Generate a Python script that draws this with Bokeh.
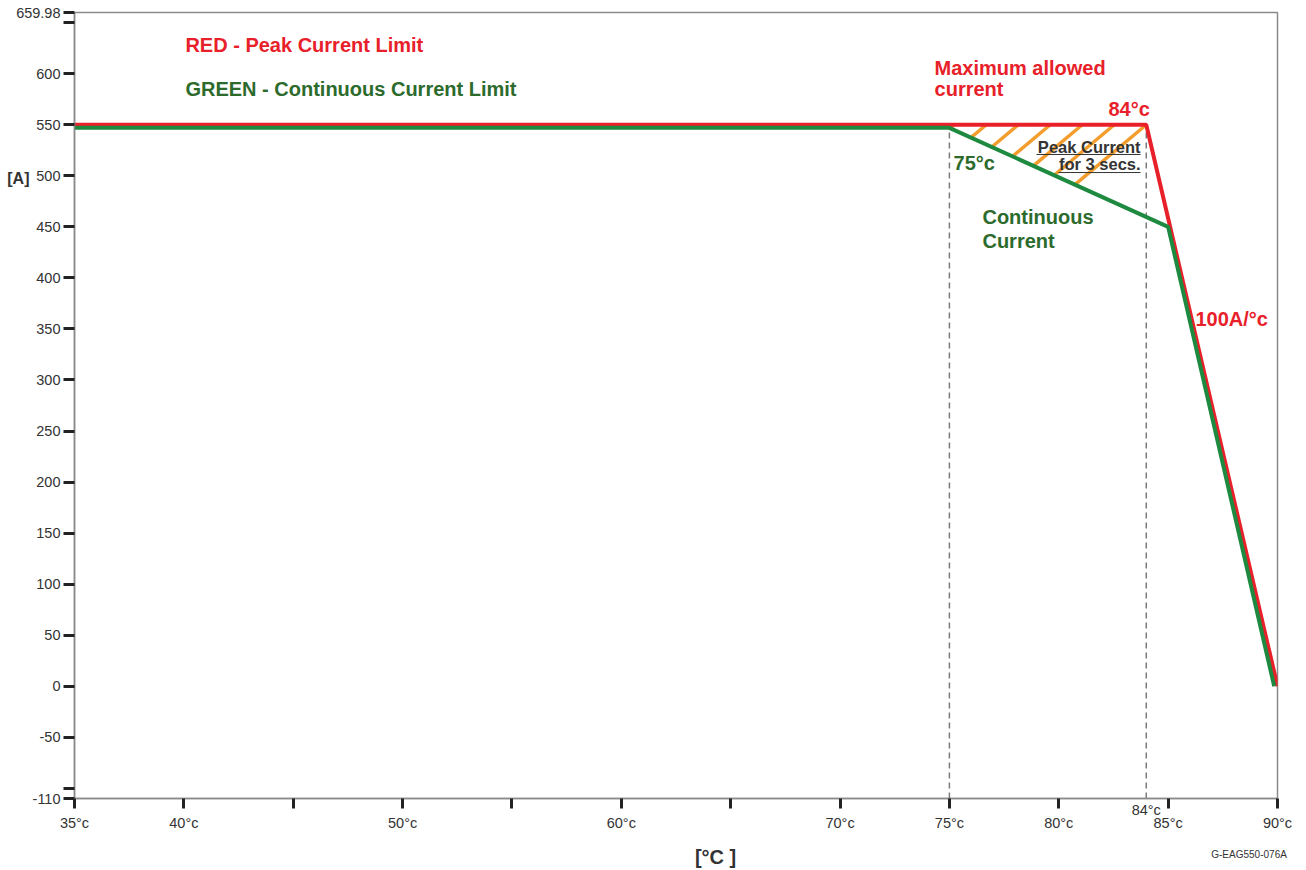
import math
from bokeh.plotting import figure
from bokeh.models import FixedTicker, Label, Range1d, LinearAxis
from bokeh.embed import file_html
from bokeh.resources import INLINE

# ---- data ----
peak_temps = [35, 84, 90]
peak_amps = [550, 550, 0]
cont_temps = [35, 75, 85, 89.85]
cont_amps = [547, 547, 450, 0]
derate_temps = [75, 84]

x_ticks = [35, 40, 45, 50, 55, 60, 65, 70, 75, 80, 85, 90]
x_tick_labels = ["35°c", "40°c", "", "50°c", "", "60°c", "", "70°c", "75°c", "80°c", "85°c", "90°c"]
y_ticks = [-110, -100, -50, 0, 50, 100, 150, 200, 250, 300, 350, 400, 450, 500, 550, 600, 650, 659.98]
y_tick_labels = ["-110", "", "-50", "0", "50", "100", "150", "200", "250", "300", "350", "400",
                 "450", "500", "550", "600", "", "659.98"]
x_min, x_max = 35, 90
y_min, y_max = -110, 659.98

RED = "#e8202a"
GREEN_LINE = "#1d8a40"
GREEN_TEXT = "#2c6b2c"
ORANGE = "#f29d2e"
DARK = "#333333"
FONT = "Liberation Sans"

W, H = 1298, 870
BL, BR, BT, BB = 74, 21, 12, 72

p = figure(width=W, height=H, output_backend="svg", toolbar_location=None,
           x_range=Range1d(x_min, x_max), y_range=Range1d(y_min, y_max),
           min_border_left=BL, min_border_right=BR, min_border_top=BT, min_border_bottom=BB)
p.background_fill_color = "white"
p.border_fill_color = "white"
p.outline_line_color = "#8a8a8a"
p.outline_line_width = 1.5
p.xgrid.visible = False
p.ygrid.visible = False

for ax in (p.xaxis[0], p.yaxis[0]):
    ax.axis_line_color = "#8a8a8a"
    ax.axis_line_width = 1.5
    ax.major_tick_line_color = "#222222"
    ax.major_tick_line_width = 3
    ax.major_tick_in = 0
    ax.minor_tick_line_color = None
    ax.major_label_text_font = FONT
    ax.major_label_text_font_size = "14.5px"
    ax.major_label_text_color = DARK

p.xaxis.ticker = FixedTicker(ticks=x_ticks)
p.xaxis.major_label_overrides = {t: l for t, l in zip(x_ticks, x_tick_labels)}
p.xaxis.major_tick_out = 10
p.xaxis.major_label_standoff = 6

p.yaxis.ticker = FixedTicker(ticks=y_ticks)
p.yaxis.major_label_overrides = {t: l for t, l in zip(y_ticks, y_tick_labels)}
p.yaxis.major_tick_out = 11
p.yaxis.major_label_standoff = 3


def text_axis(tick, text, side, size, style, standoff):
    ax = LinearAxis(ticker=FixedTicker(ticks=[tick]), major_label_overrides={tick: text},
                    axis_line_color=None, major_tick_line_color=None, minor_tick_line_color=None,
                    major_tick_in=0, major_tick_out=0, major_label_standoff=standoff,
                    major_label_text_font=FONT, major_label_text_font_size=size,
                    major_label_text_font_style=style, major_label_text_color=DARK)
    p.add_layout(ax, side)


# extra texts around the frame, carried by label-only axes
text_axis(84, "84°c", "below", "14.5px", "normal", -32)
text_axis(64.31, "[°C ]", "below", "20px", "bold", 12)
text_axis(88.70, "G-EAG550-076A", "below", "10px", "normal", -22)
text_axis(497.4, "[A]", "left", "16px", "bold", -16)


def interp(x, xs, ys):
    for i in range(len(xs) - 1):
        if xs[i] <= x <= xs[i + 1]:
            t = (x - xs[i]) / (xs[i + 1] - xs[i])
            return ys[i] + t * (ys[i + 1] - ys[i])
    return ys[-1]


# ---- dashed reference lines at derating temperatures ----
dash_tops = [cont_amps[1], peak_amps[1]]
p.segment(x0=derate_temps, y0=[y_min] * 2, x1=derate_temps, y1=dash_tops,
          line_color="#7a7a7a", line_width=1.5, line_dash="6 4")


# ---- hatched region between peak and continuous limits ----
def intersect(p1, p2, p3, p4):
    (x1, y1), (x2, y2), (x3, y3), (x4, y4) = p1, p2, p3, p4
    d = (x1 - x2) * (y3 - y4) - (y1 - y2) * (x3 - x4)
    t = ((x1 - x3) * (y3 - y4) - (y1 - y3) * (x3 - x4)) / d
    return x1 + t * (x2 - x1), y1 + t * (y2 - y1)


xi, yi = intersect((peak_temps[1], peak_amps[1]), (peak_temps[2], peak_amps[2]),
                   (cont_temps[1], cont_amps[1]), (cont_temps[2], cont_amps[2]))
region = [(derate_temps[0], interp(derate_temps[0], peak_temps, peak_amps)),
          (peak_temps[1], peak_amps[1]), (xi, yi), (derate_temps[0], cont_amps[1])]

# pixel scale of the frame, used only to lay the hatch at a fixed screen angle/spacing
SX = (W - BL - BR) / (x_max - x_min)
SY = (H - BT - BB) / (y_max - y_min)
ang = math.radians(40)
dvec = (math.cos(ang), math.sin(ang))
poly = [(x * SX, y * SY) for x, y in region]
hx0, hy0, hx1, hy1 = [], [], [], []
for k in range(12):
    P0 = (peak_temps[1] * SX - 32 * k, peak_amps[1] * SY)
    ts = []
    for i in range(len(poly)):
        A, B = poly[i], poly[(i + 1) % len(poly)]
        e = (B[0] - A[0], B[1] - A[1])
        den = dvec[0] * e[1] - dvec[1] * e[0]
        if abs(den) < 1e-12:
            continue
        w = (A[0] - P0[0], A[1] - P0[1])
        t = (w[0] * e[1] - w[1] * e[0]) / den
        u = (w[0] * dvec[1] - w[1] * dvec[0]) / den
        if -1e-9 <= u <= 1 + 1e-9:
            ts.append(t)
    if len(ts) >= 2 and max(ts) - min(ts) > 1:
        a, b = min(ts), max(ts)
        hx0.append((P0[0] + a * dvec[0]) / SX)
        hy0.append((P0[1] + a * dvec[1]) / SY)
        hx1.append((P0[0] + b * dvec[0]) / SX)
        hy1.append((P0[1] + b * dvec[1]) / SY)
p.segment(x0=hx0, y0=hy0, x1=hx1, y1=hy1, line_color=ORANGE, line_width=3.5)

# ---- limit curves ----
p.line(peak_temps, peak_amps, line_color=RED, line_width=4)
p.line(cont_temps, cont_amps, line_color=GREEN_LINE, line_width=4)


# ---- annotations ----
def lab(x, y, text, color, size="20px", style="bold", align="left"):
    p.add_layout(Label(x=x, y=y, text=text, text_color=color, text_font=FONT,
                       text_font_size=size, text_font_style=style,
                       text_align=align, text_baseline="middle"))


lab(40.07, 628.6, "RED - Peak Current Limit", RED)
lab(40.07, 585.5, "GREEN - Continuous Current Limit", GREEN_TEXT)
lab(74.32, 606.1, "Maximum allowed", RED)
lab(74.32, 584.6, "current", RED)
lab(82.27, 565.9, "84°c", RED)
lab(75.19, 512.1, "75°c", GREEN_TEXT)
lab(83.74, 528.7, "Peak Current", DARK, "16.5px", align="right")
lab(83.74, 511.1, "for 3 secs.", DARK, "16.5px", align="right")
lab(76.51, 459.2, "Continuous", GREEN_TEXT)
lab(76.51, 436.6, "Current", GREEN_TEXT)
lab(86.25, 360.2, "100A/°c", RED)

# underline of the peak-current note
p.segment(x0=[78.98, 79.99], y0=[520.9, 503.2], x1=[83.74, 83.74], y1=[520.9, 503.2],
          line_color=DARK, line_width=1)

open("out.html", "w").write(file_html(p, INLINE))
